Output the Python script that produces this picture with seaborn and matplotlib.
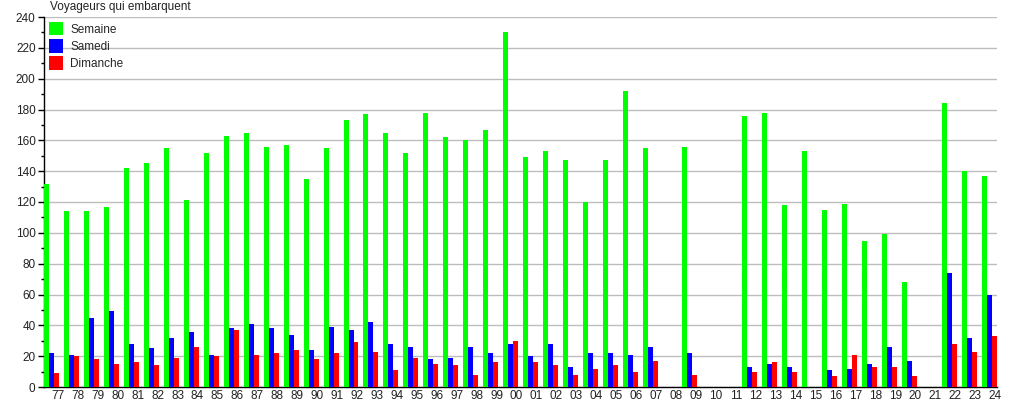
import numpy as np
import pandas as pd
import seaborn as sns
import matplotlib.pyplot as plt
from matplotlib.ticker import MultipleLocator

# --- data ---
years = ["77", "78", "79", "80", "81", "82", "83", "84", "85", "86", "87", "88",
         "89", "90", "91", "92", "93", "94", "95", "96", "97", "98", "99", "00",
         "01", "02", "03", "04", "05", "06", "07", "08", "09", "10", "11", "12",
         "13", "14", "15", "16", "17", "18", "19", "20", "21", "22", "23", "24"]

semaine = [132, 114, 114, 117, 142, 145, 155, 121, 152, 163, 165, 156,
           157, 135, 155, 173, 177, 165, 152, 178, 162, 160, 167, 230,
           149, 153, 147, 120, 147, 192, 155, 0, 156, 0, 0, 176,
           178, 118, 153, 115, 119, 95, 99, 68, 0, 184, 140, 137]

samedi = [22, 21, 45, 49, 28, 25, 32, 36, 21, 38, 41, 38,
          34, 24, 39, 37, 42, 28, 26, 18, 19, 26, 22, 28,
          20, 28, 13, 22, 22, 21, 26, 0, 22, 0, 0, 13,
          15, 13, 0, 11, 12, 15, 26, 17, 0, 74, 32, 60]

dimanche = [9, 20, 18, 15, 16, 14, 19, 26, 20, 37, 21, 22,
            24, 18, 22, 29, 23, 11, 19, 15, 14, 8, 16, 30,
            16, 14, 8, 12, 14, 10, 17, 0, 8, 0, 0, 10,
            16, 10, 0, 7, 21, 13, 13, 7, 0, 28, 23, 33]

series_names = ["Semaine", "Samedi", "Dimanche"]
series_colors = ["#00ff00", "#0000ff", "#ff0000"]

df = pd.DataFrame({"annee": years, "Semaine": semaine,
                   "Samedi": samedi, "Dimanche": dimanche})
long_df = df.melt(id_vars="annee", var_name="jour", value_name="voyageurs")

# --- plot ---
sns.set_style("white")
plt.rcParams["font.family"] = ["Liberation Sans", "DejaVu Sans"]

fig = plt.figure(figsize=(10.15, 4.0), dpi=100)
ax = fig.add_axes([0.0433, 0.0325, 0.939, 0.925])

sns.barplot(data=long_df, x="annee", y="voyageurs", hue="jour",
            order=years, hue_order=series_names, palette=series_colors,
            width=0.75, saturation=1, errorbar=None, linewidth=0,
            ax=ax, zorder=3)

ax.set_ylim(0, 240)
ax.set_xlim(-0.4, len(years) - 0.6)
ax.yaxis.set_major_locator(MultipleLocator(20))
ax.yaxis.set_minor_locator(MultipleLocator(10))
ax.grid(axis="y", which="major", color="#bdbdbd", linewidth=1, zorder=0)
ax.set_axisbelow(True)

# labels sit under the right-hand part of each group
ax.set_xticks(np.arange(len(years)) + 0.3)
ax.set_xticklabels(years)
ax.tick_params(axis="x", length=0, pad=2, labelsize=8.5, labelcolor="#222222")
ax.tick_params(axis="y", which="major", length=4, width=1, color="black",
               labelsize=8.5, labelcolor="#222222", pad=2, left=True)
ax.tick_params(axis="y", which="minor", length=2.5, width=1, color="black", left=True)
ax.set_xlabel("")
ax.set_ylabel("")

for side in ["top", "right"]:
    ax.spines[side].set_visible(False)
for side in ["left", "bottom"]:
    ax.spines[side].set_color("black")
    ax.spines[side].set_linewidth(1)

handles, labels = ax.get_legend_handles_labels()
ax.legend(handles, labels, loc="upper left", bbox_to_anchor=(-0.002, 1.005),
          frameon=False, fontsize=8.5, handlelength=1.15, handleheight=1.35,
          labelspacing=0.3, handletextpad=0.65, borderaxespad=0.2)

fig.text(50 / 1015, 1 - 7 / 400, "Voyageurs qui embarquent",
         fontsize=8.5, color="#222222", va="center", ha="left")

fig.savefig("out.png", dpi=100)
